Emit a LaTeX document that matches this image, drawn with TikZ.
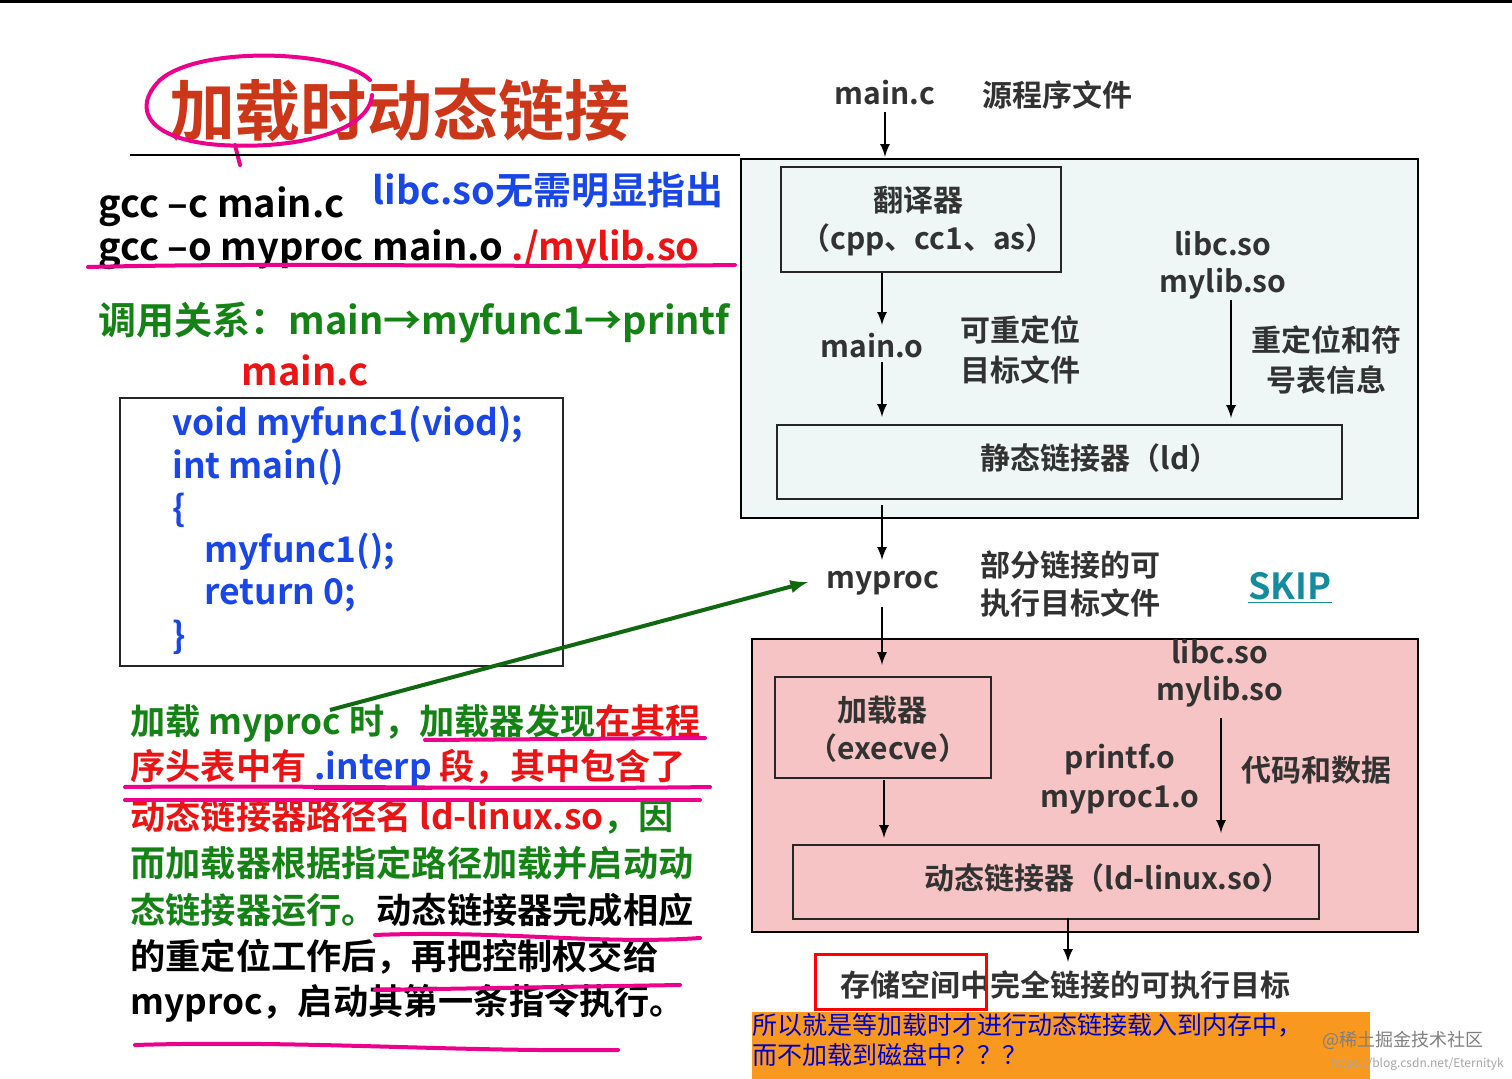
\documentclass[tikz,border=0pt]{standalone}
\usepackage{fontspec}
\setmainfont{Noto Sans CJK SC}[BoldFont={Noto Sans CJK SC Bold}]
\begin{document}
\begin{tikzpicture}[x=0.5pt,y=-0.5pt,
  every node/.style={inner sep=0pt,font=\bfseries},
  big/.style={font=\fontsize{19}{21}\selectfont\bfseries},
  code/.style={font=\fontsize{17.7}{19}\selectfont\bfseries,text=cblue,anchor=west},
  para/.style={font=\fontsize{17.6}{19}\selectfont\bfseries,anchor=west},
  dg/.style={font=\fontsize{15}{17}\selectfont\bfseries,text=dtext},
  box/.style={draw=black!85,line width=1pt},
  arr/.style={-latex,line width=1.2pt},
  mag/.style={draw=magenta,line width=2pt,line cap=round}]
\definecolor{cblue}{RGB}{25,70,230}
\definecolor{cgreen}{RGB}{20,130,20}
\definecolor{cred}{RGB}{235,20,20}
\definecolor{dtext}{RGB}{50,50,50}
\definecolor{lblue}{RGB}{238,246,246}
\definecolor{pink}{RGB}{246,196,196}
\definecolor{orng}{RGB}{248,152,30}
\definecolor{teal}{RGB}{20,140,160}
\definecolor{tred}{RGB}{205,55,25}
\useasboundingbox (0,0) rectangle (1512,1079);
\fill[white] (0,0) rectangle (1512,1079);
\draw[line width=1.5pt] (0,2) -- (1512,2);
% title
\node[font=\fontsize{33}{36}\selectfont\bfseries,text=tred] (title) at (400,110) {加载时动态链接};
\draw[mag] (370,80) .. controls (340,50) and (200,45) .. (160,80) .. controls (130,110) and (150,140) .. (220,145) .. controls (300,150) and (370,130) .. (372,95);
\draw[mag] (235,145) -- (240,165);
\draw[line width=0.8pt] (130,155) -- (740,155);
\node[big,anchor=west] (g1) at (98,207) {gcc –c main.c};
\node[big,text=cblue] (lib) at (548,190) {libc.so无需明显指出};
\node[big,anchor=west] (g2) at (98,250) {gcc –o myproc main.o \textcolor{cred}{./mylib.so}};
\draw[mag] (88,267) .. controls (300,262) and (500,268) .. (735,265);
\node[big,anchor=west,text=cgreen] (call) at (98,323) {调用关系：main→myfunc1→printf};
\node[big,text=cred] (mc) at (305,370) {main.c};
\node[box,minimum width=221.5pt,minimum height=134pt,anchor=north west] (cbox) at (119,397) {};
\node[code] at (172,425) {void myfunc1(viod);};
\node[code] at (172,467) {int main()};
\node[code] at (172,510) {\{};
\node[code] at (204,552) {myfunc1();};
\node[code] at (204,595) {return 0;};
\node[code] at (172,637) {\}};
% paragraph
\node[para,text=cgreen] at (130,723) {加载 myproc 时，加载器发现\textcolor{cred}{在其程}};
\node[para,text=cred] at (130,770) {序头表中有 \textcolor{cblue}{\underline{.interp}} 段，其中包含了};
\node[para,text=cred] at (130,817) {动态链接器路径名 ld-linux.so\textcolor{cgreen}{，因}};
\node[para,text=cgreen] at (130,863) {而加载器根据指定路径加载并启动动};
\node[para,text=cgreen] at (130,910) {态链接器运行。\textcolor{black}{动态链接器完成相应}};
\node[para] at (130,957) {的重定位工作后，再把控制权交给};
\node[para] at (130,1003) {myproc，启动其第一条指令执行。};
\draw[mag] (425,740) -- (705,738);
\draw[mag] (125,787) .. controls (300,785) and (500,790) .. (710,787);
\draw[mag] (125,800) -- (700,800);
\draw[mag] (375,935) .. controls (500,930) and (600,945) .. (700,938);
\draw[mag] (375,990) -- (680,985);
\draw[mag] (135,1045) .. controls (300,1040) and (450,1052) .. (618,1050);
% right diagram
\node[dg] (src) at (885,93) {main.c};
\node[dg,anchor=west] at (982,95) {源程序文件};
\fill[lblue] (741,159) rectangle (1418,518);
\draw[line width=0.8pt] (741,159) rectangle (1418,518);
\node[box,minimum width=140pt,minimum height=52.5pt,anchor=north west] (tr) at (780,166) {};
\node[dg] at (918,200) {翻译器};
\node[dg] at (928,240) {（cpp、cc1、as）};
\node[dg] at (1223,244) {libc.so};
\node[dg] at (1223,284) {mylib.so};
\node[dg] (mo) at (872,346) {main.o};
\node[dg,anchor=west] at (960,330) {可重定位};
\node[dg,anchor=west] at (960,370) {目标文件};
\node[dg] at (1326,340) {重定位和符};
\node[dg] at (1326,380) {号表信息};
\node[box,minimum width=282.5pt,minimum height=37pt,anchor=north west] (ld) at (776,424) {};
\node[dg] at (1100,458) {静态链接器（ld）};
\coordinate (a1) at (882,273); \coordinate (a2) at (882,325);
\coordinate (a3) at (882,362); \coordinate (a4) at (882,417);
\coordinate (a5) at (1231,300); \coordinate (a6) at (1231,418);
\coordinate (a0) at (885,112); \coordinate (a0b) at (885,157);
\draw[arr] (a0) -- (a0b);
\draw[arr] (a1) -- (a2);
\draw[arr] (a3) -- (a4);
\draw[arr] (a5) -- (a6);
\node[dg] (mp) at (883,583) {myproc};
\coordinate (b1) at (882,505); \coordinate (b2) at (882,560);
\draw[arr] (b1) -- (b2);
\node[dg,anchor=west] at (980,565) {部分链接的可};
\node[dg,anchor=west] at (980,603) {执行目标文件};
\node[font=\fontsize{18}{20}\selectfont\bfseries,text=teal] (skip) at (1290,588) {\underline{SKIP}};
\coordinate (gs) at (330,710);
\coordinate (ge) at (808,582);
\draw[-latex,line width=2pt,draw=cgreen!80!black] (gs) -- (ge);
\fill[pink] (752,639) rectangle (1418,932);
\draw[line width=0.8pt] (752,639) rectangle (1418,932);
\coordinate (b3) at (882,607); \coordinate (b4) at (882,665);
\draw[arr] (b3) -- (b4);
\node[dg] at (1220,652) {libc.so};
\node[dg] at (1220,692) {mylib.so};
\node[box,minimum width=108pt,minimum height=50.5pt,anchor=north west] (ex) at (774,676) {};
\node[dg] at (882,710) {加载器};
\node[dg] at (888,748) {（execve）};
\node[dg] at (1120,760) {printf.o};
\node[dg] at (1120,800) {myproc1.o};
\node[dg] at (1316,770) {代码和数据};
\coordinate (c1) at (884,780); \coordinate (c2) at (884,838);
\coordinate (c3) at (1221,718); \coordinate (c4) at (1221,833);
\draw[arr] (c1) -- (c2);
\draw[arr] (c3) -- (c4);
\node[box,minimum width=263pt,minimum height=37pt,anchor=north west] (dl) at (792,844) {};
\node[dg] at (1108,878) {动态链接器（ld-linux.so）};
\coordinate (c5) at (1068,918); \coordinate (c6) at (1068,962);
\draw[arr] (c5) -- (c6);
\node[dg] (full) at (1065,985) {存储空间中完全链接的可执行目标};
\draw[draw=red,line width=1.5pt] (815,955) rectangle (986,1010);
\fill[orng] (752,1012) rectangle (1370,1079);
\node[font=\fontsize{12.5}{14}\selectfont,text=blue!80!black,anchor=west] at (752,1025) {所以就是等加载时才进行动态链接载入到内存中，};
\node[font=\fontsize{12.5}{14}\selectfont,text=blue!80!black,anchor=west] at (752,1055) {而不加载到磁盘中？？？};
\node[font=\fontsize{9}{10}\selectfont,text=gray,anchor=west] at (1322,1040) {@稀土掘金技术社区};
\node[font=\fontsize{6}{7}\selectfont,text=gray!70,anchor=west] at (1330,1064) {https://blog.csdn.net/Eternityk};
\end{tikzpicture}
\end{document}
